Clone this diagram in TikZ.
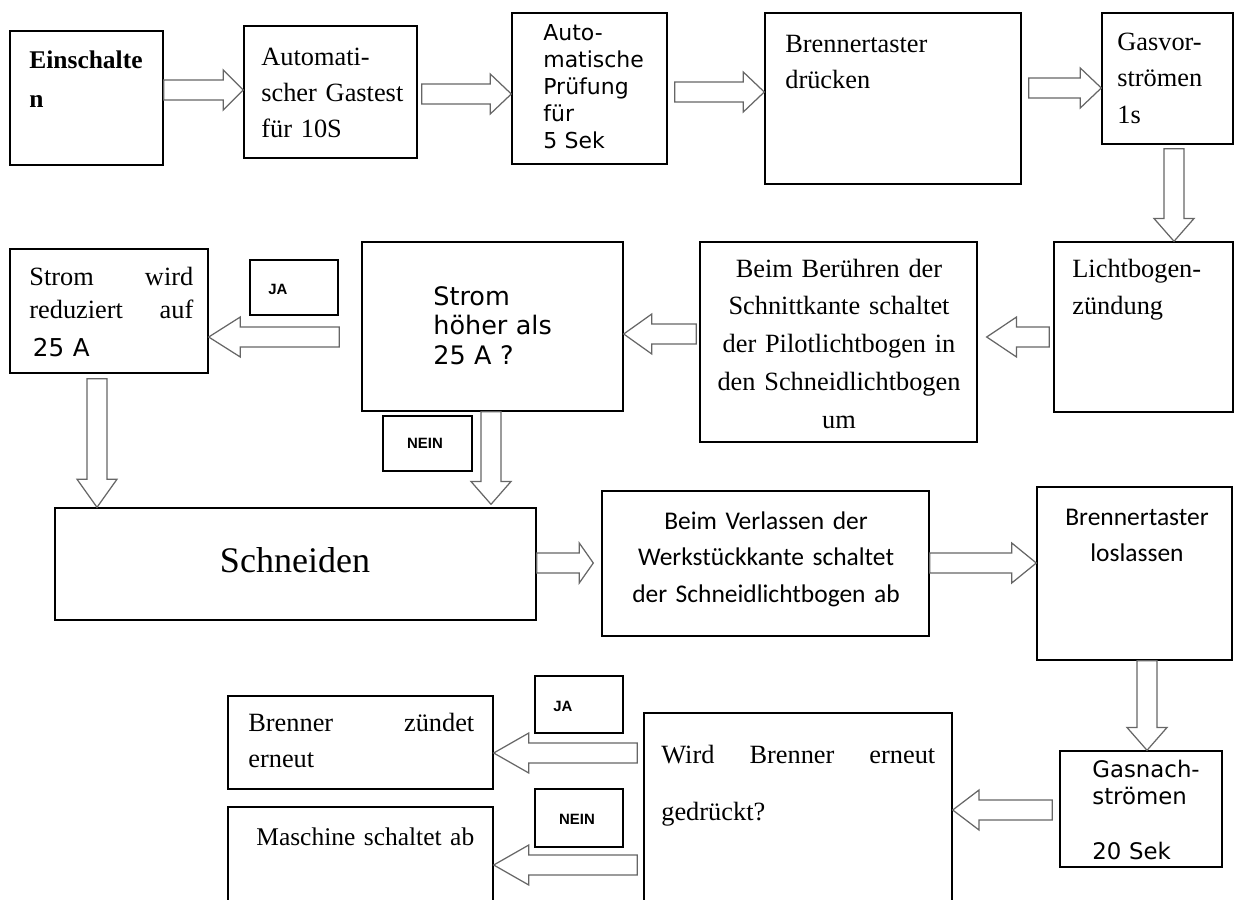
\documentclass[tikz,border=0pt]{standalone}
\usepackage{fontspec}
\setmainfont{Liberation Serif}
\newfontfamily\djv{DejaVu Sans}
\newfontfamily\carlito{Carlito}
\newfontfamily\arsans{Liberation Sans}
\usetikzlibrary{calc,fit}

\def\fhl{12pt}
\tikzset{
  box/.style={draw, line width=0.8pt, inner sep=0pt},
  txt/.style={anchor=base west, inner sep=0pt, align=left},
  ctxt/.style={anchor=base, inner sep=0pt, align=center},
  tag/.style={inner sep=0pt, font=\arsans\bfseries\fontsize{8.5}{10}\selectfont},
  fhl/.code={\def\fhl{#1}},
  fat/.style={draw=black!60, fill=white, line width=0.7pt, line join=miter,
    to path={coordinate (fa-s) (\tikztotarget) coordinate (fa-e)
      ($(fa-s)!5.7pt!90:(fa-e)$)
      -- ($(fa-e)!\fhl!(fa-s)!5.7pt!-90:(fa-s)$)
      -- ($(fa-e)!\fhl!(fa-s)!11.4pt!-90:(fa-s)$)
      -- (fa-e)
      -- ($(fa-e)!\fhl!(fa-s)!11.4pt!90:(fa-s)$)
      -- ($(fa-e)!\fhl!(fa-s)!5.7pt!90:(fa-s)$)
      -- ($(fa-s)!5.7pt!-90:(fa-e)$) -- cycle}}
}

\begin{document}
\begin{tikzpicture}[x=0.02cm, y=-0.02cm]
\useasboundingbox (0,0) rectangle (1236,899);
\clip (0,0) rectangle (1236,899);

% boxes, first row
\node[box, fit={(10,31) (163,165)}] (b1) {};
\node[box, fit={(244,26) (417,158)}] (b2) {};
\node[box, fit={(512,13) (667,164)}] (b3) {};
\node[box, fit={(765,13) (1021,184)}] (b4) {};
\node[box, fit={(1102,13) (1233,144)}] (b5) {};
% second row
\node[box, fit={(1054,242) (1233,412)}] (b6) {};
\node[box, fit={(700,242) (977,442)}] (b7) {};
\node[box, fit={(362,242) (623,411)}] (b8) {};
\node[box, fit={(10,249) (208,373)}] (b9) {};
\node[box, fit={(250,260) (338,315)}] (ja1) {};
\node[box, fit={(383,416) (472,471)}] (nein1) {};
% third row
\node[box, fit={(55,508) (536,620)}] (b10) {};
\node[box, fit={(602,491) (929,636)}] (b11) {};
\node[box, fit={(1037,487) (1232,660)}] (b12) {};
% last row
\node[box, fit={(1060,751) (1222,867)}] (b13) {};
\node[box, fit={(644,713) (952,915)}] (b14) {};
\node[box, fit={(228,696) (493,789)}] (b15) {};
\node[box, fit={(228,807) (493,915)}] (b16) {};
\node[box, fit={(535,676) (623,733)}] (ja2) {};
\node[box, fit={(535,789) (623,847)}] (nein2) {};

% texts
\node[txt, text width=3cm, font=\bfseries\fontsize{14.5}{22.2}\selectfont] (t1) at (29,68) {Einschalte\\n};
\node[txt, text width=3.3cm, font=\fontsize{15}{20.5}\selectfont] (t2) at (261,65) {Automati-\\scher Gastest\\für 10S};
\node[txt, text width=2.8cm, font=\djv\fontsize{12.5}{15.4}\selectfont] (t3) at (543,40) {Auto-\\matische\\Prüfung\\für\\5 Sek};
\node[txt, text width=4.5cm, font=\fontsize{15}{21}\selectfont] (t4) at (785,52) {Brennertaster\\drücken};
\node[txt, text width=2.2cm, font=\fontsize{15}{20.8}\selectfont] (t5) at (1117,50) {Gasvor-\\strömen\\1s};
\node[txt, text width=3.2cm, font=\fontsize{15}{21.6}\selectfont] (t6) at (1072,277) {Lichtbogen-\\zündung};
\node[ctxt, text width=5.4cm, font=\fontsize{15}{21.6}\selectfont] (t7) at (839,277) {Beim Berühren der\\Schnittkante schaltet\\der Pilotlichtbogen in\\den Schneidlichtbogen\\um};
\node[txt, text width=3.5cm, font=\djv\fontsize{14.5}{16.8}\selectfont] (t8) at (433,305) {Strom\\höher als\\25 A ?};
\node[txt, text width=3.28cm, font=\fontsize{15}{18.8}\selectfont] (t9) at (29,285) {Strom\hfill wird\\reduziert\hfill auf\\[3pt]\hspace*{2pt}{\djv\fontsize{14}{17}\selectfont 25 A}};
\node[tag, anchor=west] (ja1t) at (268,289) {JA};
\node[tag] (nein1t) at (425,443) {NEIN};
\node[inner sep=0pt, font=\fontsize{20.5}{24}\selectfont] (t10) at (295,560) {Schneiden};
\node[ctxt, text width=6.4cm, font=\carlito\fontsize{14.5}{21}\selectfont] (t11) at (766,529) {Beim Verlassen der\\Werkstückkante schaltet\\der Schneidlichtbogen ab};
\node[ctxt, text width=3.8cm, font=\carlito\fontsize{14.5}{21}\selectfont] (t12) at (1137,525) {Brennertaster\\loslassen};
\node[txt, text width=3cm, font=\djv\fontsize{13}{15.6}\selectfont] (t13) at (1092,777) {Gasnach-\\strömen\\\mbox{}\\20 Sek};
\node[txt, text width=5.48cm, font=\fontsize{15}{33}\selectfont] (t14) at (661,763) {Wird\hfill Brenner\hfill erneut\\gedrückt?};
\node[txt, text width=4.52cm, font=\fontsize{15}{21}\selectfont] (t15) at (248,731) {Brenner\hfill zündet\\erneut};
\node[txt, text width=5cm, font=\fontsize{14.5}{18}\selectfont] (t16) at (256,845) {Maschine schaltet ab};
\node[tag, anchor=west] (ja2t) at (553,706) {JA};
\node[tag] (nein2t) at (577,819) {NEIN};

% block arrows
\path[fat, fhl=11.4pt] (b1.east |- 0,90) to (b2.west |- 0,90);
\path[fat, fhl=12pt] ($(b2.east |- 0,94)+(4,0)$) to (b3.west |- 0,94);
\path[fat, fhl=12pt] ($(b3.east |- 0,92)+(7,0)$) to (b4.west |- 0,92);
\path[fat, fhl=12pt] ($(b4.east |- 0,88)+(7,0)$) to (b5.west |- 0,88);
\path[fat, fhl=13pt] ($(1174,0 |- b5.south)+(0,4)$) to (1174,0 |- b6.north);
\path[fat, fhl=17pt] ($(b6.west |- 0,337)+(-4,0)$) to ($(b7.east |- 0,337)+(9,0)$);
\path[fat, fhl=16pt] ($(b7.west |- 0,334)+(-3,0)$) to (b8.east |- 0,334);
\path[fat, fhl=18pt] ($(b8.west |- 0,337)+(-22,0)$) to (b9.east |- 0,337);
\path[fat, fhl=16pt] ($(97,0 |- b9.south)+(0,5)$) to (97,0 |- b10.north);
\path[fat, fhl=13pt] (491,0 |- b8.south) to ($(491,0 |- b10.north)+(0,-3)$);
\path[fat, fhl=8pt] (b10.east |- 0,563) to ($(b11.west |- 0,563)+(-8,0)$);
\path[fat, fhl=14pt] (b11.east |- 0,563) to (b12.west |- 0,563);
\path[fat, fhl=13pt] (1147,0 |- b12.south) to (1147,0 |- b13.north);
\path[fat, fhl=15pt] ($(b13.west |- 0,810)+(-7,0)$) to (b14.east |- 0,810);
\path[fat, fhl=20pt] ($(b14.west |- 0,753)+(-6,0)$) to (b15.east |- 0,753);
\path[fat, fhl=20pt] ($(b14.west |- 0,865)+(-6,0)$) to (b16.east |- 0,865);
\end{tikzpicture}
\end{document}
